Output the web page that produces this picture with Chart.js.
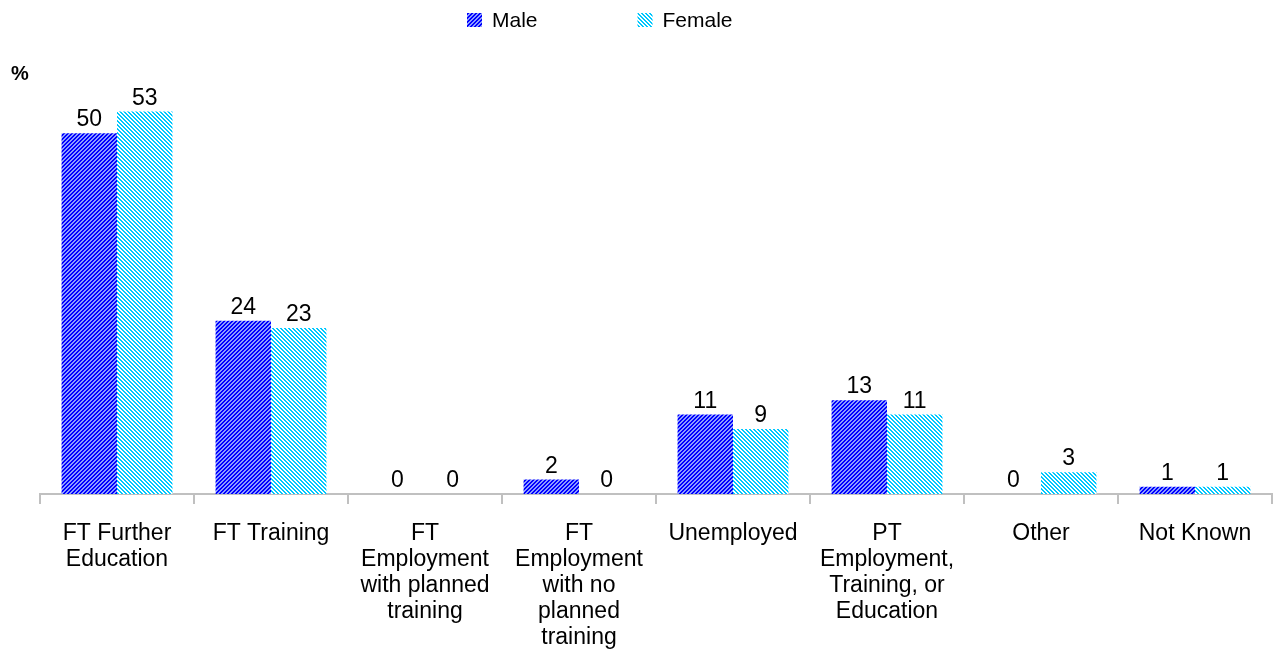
<!DOCTYPE html>
<html>
<head>
<meta charset="utf-8">
<script src="https://cdn.jsdelivr.net/npm/chart.js@4/dist/chart.umd.min.js"></script>
<style>
  html, body { margin: 0; padding: 0; background: #fff; }
  #wrap { width: 1282px; height: 664px; position: relative; }
</style>
</head>
<body>
<div id="wrap"><canvas id="chart"></canvas></div>
<script>
const categories = [
  ['FT Further', 'Education'],
  ['FT Training'],
  ['FT', 'Employment', 'with planned', 'training'],
  ['FT', 'Employment', 'with no', 'planned', 'training'],
  ['Unemployed'],
  ['PT', 'Employment,', 'Training, or', 'Education'],
  ['Other'],
  ['Not Known']
];
const maleValues = [50, 24, 0, 2, 11, 13, 0, 1];
const femaleValues = [53, 23, 0, 0, 9, 11, 3, 1];
const seriesNames = ['Male', 'Female'];

const FONT = '"Liberation Sans", Arial, Helvetica, sans-serif';

// small diagonal hatch used as bar fill
function stripes(fg, bg, dir) {
  const size = 4;
  const cv = document.createElement('canvas');
  cv.width = cv.height = size;
  const g = cv.getContext('2d');
  g.fillStyle = bg;
  g.fillRect(0, 0, size, size);
  g.fillStyle = fg;
  for (let y = 0; y < size; y++) {
    for (let x = 0; x < size; x++) {
      const k = dir > 0 ? (x + y) % size : (x - y + size) % size;
      if (k < 2) g.fillRect(x, y, 1, 1);
    }
  }
  return g.createPattern(cv, 'repeat');
}

const malePattern = stripes('#0000ff', '#8c9cff', 1);
const femalePattern = stripes('#00c8ff', '#ffffff', -1);

// value labels above the bars
const valueLabels = {
  id: 'valueLabels',
  afterDatasetsDraw(chart) {
    const ctx = chart.ctx;
    ctx.save();
    ctx.font = '23px ' + FONT;
    ctx.fillStyle = '#000';
    ctx.textAlign = 'center';
    ctx.textBaseline = 'alphabetic';
    chart.data.datasets.forEach((ds, i) => {
      chart.getDatasetMeta(i).data.forEach((bar, j) => {
        ctx.fillText(String(ds.data[j]), bar.x, bar.y - 7);
      });
    });
    ctx.restore();
  }
};

// legend + "%" unit label
const extras = {
  id: 'extras',
  afterDraw(chart) {
    const ctx = chart.ctx;
    ctx.save();
    ctx.font = 'bold 20px ' + FONT;
    ctx.fillStyle = '#000';
    ctx.textBaseline = 'middle';
    ctx.textAlign = 'left';
    ctx.fillText('%', 11, 74);

    ctx.font = '21px ' + FONT;
    let x = 467;
    chart.data.datasets.forEach(ds => {
      ctx.fillStyle = ds.backgroundColor;
      ctx.fillRect(x, 13, 15, 14);
      ctx.fillStyle = '#000';
      ctx.fillText(ds.label, x + 25, 21);
      x += 25 + ctx.measureText(ds.label).width + 100;
    });
    ctx.restore();
  }
};

new Chart(document.getElementById('chart'), {
  type: 'bar',
  data: {
    labels: categories,
    datasets: [
      { label: seriesNames[0], data: maleValues, backgroundColor: malePattern, borderWidth: 0 },
      { label: seriesNames[1], data: femaleValues, backgroundColor: femalePattern, borderWidth: 0 }
    ]
  },
  options: {
    responsive: true,
    maintainAspectRatio: false,
    animation: false,
    datasets: { bar: { categoryPercentage: 0.72, barPercentage: 1.0 } },
    layout: { padding: { left: 40, right: 10, top: 61, bottom: 0 } },
    plugins: {
      legend: { display: false },
      tooltip: { enabled: false }
    },
    scales: {
      x: {
        grid: { display: true, drawOnChartArea: false, color: '#c0c0c0', lineWidth: 2, tickLength: 10, offset: true },
        border: { display: true, color: '#c0c0c0', width: 2 },
        ticks: { color: '#000', font: { family: FONT, size: 23, lineHeight: 1.13 }, maxRotation: 0, autoSkip: false, padding: 17 },
        afterFit: s => { s.height = 170; }
      },
      y: {
        display: false,
        min: 0,
        max: 60
      }
    }
  },
  plugins: [valueLabels, extras]
});
</script>
</body>
</html>
